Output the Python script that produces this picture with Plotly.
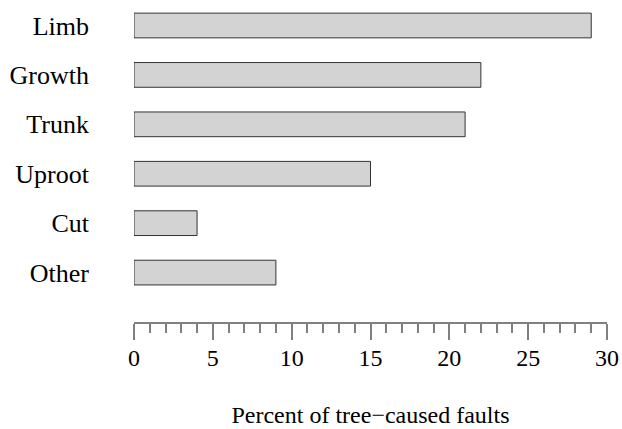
import plotly.graph_objects as go

# Tree-caused fault categories and their share (%)
categories = ["Limb", "Growth", "Trunk", "Uproot", "Cut", "Other"]
percent = [29, 22, 21, 15, 4, 9]
x_ticks = [0, 5, 10, 15, 20, 25, 30]

FONT = "Liberation Serif, Times New Roman, serif"

fig = go.Figure(
    go.Bar(
        x=percent,
        y=categories,
        orientation="h",
        width=0.5,
        marker=dict(color="#d3d3d3", line=dict(color="#333333", width=1)),
        hoverinfo="x+y",
    )
)

fig.update_layout(
    width=622,
    height=429,
    margin=dict(l=134, r=15, t=0, b=107),
    plot_bgcolor="white",
    paper_bgcolor="white",
    font=dict(family=FONT, size=24, color="black"),
    showlegend=False,
    xaxis=dict(
        range=[0, 30],
        tickvals=x_ticks,
        ticktext=[str(v) for v in x_ticks],
        ticks="outside",
        ticklen=16,
        tickwidth=1.5,
        tickcolor="#808080",
        showline=True,
        linecolor="#808080",
        linewidth=1.5,
        showgrid=False,
        zeroline=False,
        minor=dict(dtick=1, ticks="outside", ticklen=9, tickcolor="#808080", tickwidth=1.5, showgrid=False),
        ticklabelstandoff=-3,
        title=dict(text="Percent of tree\u2212caused faults", standoff=37, font=dict(size=24)),
        tickfont=dict(size=24),
    ),
    yaxis=dict(
        type="category",
        categoryorder="array",
        categoryarray=categories,
        range=[6.0, -0.516],
        showline=False,
        showgrid=False,
        zeroline=False,
        ticks="",
        ticklabelstandoff=44,
        tickfont=dict(size=26),
    ),
)

fig.write_html("out.html")
